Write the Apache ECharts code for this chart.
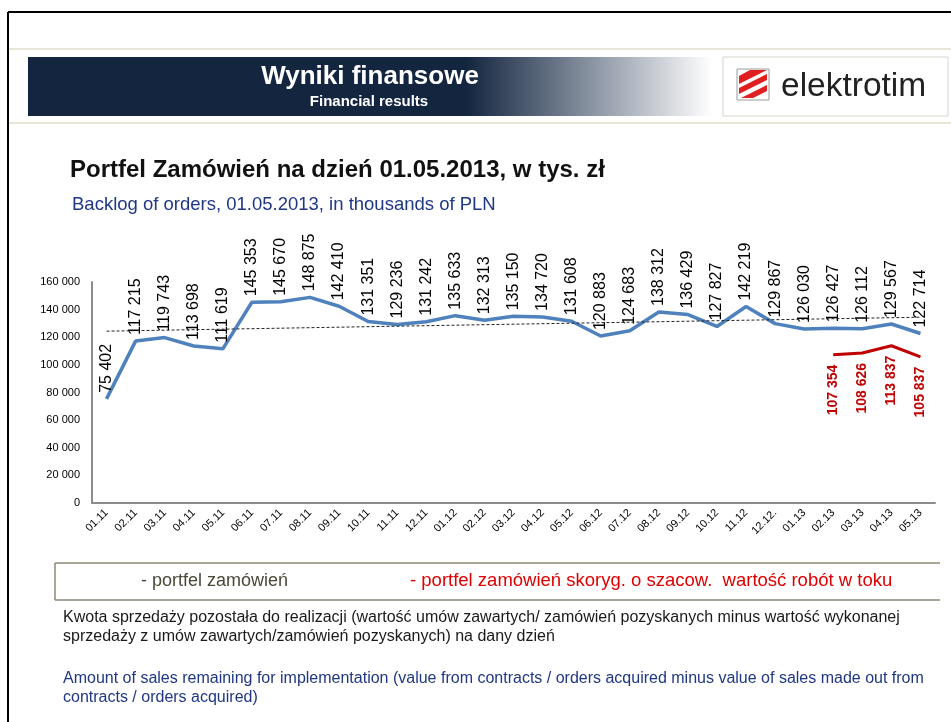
<!DOCTYPE html>
<html>
<head>
<meta charset="utf-8">
<title>Portfel Zamówień</title>
<script src="https://cdn.jsdelivr.net/npm/echarts@6/dist/echarts.min.js"></script>
<style>
    html, body { margin: 0; padding: 0; background: #fff; }
    #chart { width: 951px; height: 722px; }
</style>
</head>
<body>
<div id="chart"></div>
<script>
// miesiące (oś X)
const months = ['01.11', '02.11', '03.11', '04.11', '05.11', '06.11', '07.11', '08.11', '09.11', '10.11', '11.11', '12.11',
    '01.12', '02.12', '03.12', '04.12', '05.12', '06.12', '07.12', '08.12', '09.12', '10.12', '11.12', '12.12.',
    '01.13', '02.13', '03.13', '04.13', '05.13']
// portfel zamówień
const backlog = [75402, 117215, 119743, 113698, 111619, 145353, 145670, 148875, 142410, 131351, 129236, 131242,
    135633, 132313, 135150, 134720, 131608, 120883, 124683, 138312, 136429, 127827, 142219, 129867,
    126030, 126427, 126112, 129567, 122714]
// portfel skorygowany (od 02.13)
const adjustedMonths = ['02.13', '03.13', '04.13', '05.13']
const adjusted = [107354, 108626, 113837, 105837]
// linia trendu - odczyt z wykresu (początek / koniec)
const trendStart = 124400
const trendEnd = 134500

const fmt = (v) => String(v).replace(/\B(?=(\d{3})+(?!\d))/g, ' ')
const adjustedData = months.map((m) => {
    let i = adjustedMonths.indexOf(m)
    return i < 0 ? null : adjusted[i]
})

const FONT = 'Liberation Sans, Arial, sans-serif'

let myChart = echarts.init(document.getElementById('chart'))
let option = {
    animation: false,
    textStyle: { fontFamily: FONT },
    grid: {
        left: 92,
        right: 16,
        top: 282,
        bottom: 219,
    },
    xAxis: {
        type: 'category',
        data: months,
        boundaryGap: true,
        axisTick: { show: false },
        axisLine: {
            lineStyle: { color: '#8c8c8c', width: 2 },
        },
        axisLabel: {
            rotate: 45,
            fontSize: 11,
            color: '#000',
            margin: 8,
            interval: 0,
        },
    },
    yAxis: {
        type: 'value',
        min: 0,
        max: 160000,
        interval: 20000,
        splitLine: { show: false },
        axisTick: { show: false },
        axisLine: {
            show: true,
            lineStyle: { color: '#8c8c8c', width: 2 },
        },
        axisLabel: {
            fontSize: 11,
            color: '#000',
            margin: 12,
            formatter: fmt,
        },
    },
    series: [
        {
            name: 'portfel zamówień',
            type: 'line',
            data: backlog,
            symbol: 'circle',
            symbolSize: 0, // bez punktów, ale z etykietami
            showSymbol: true,
            lineStyle: { color: '#4f81bd', width: 3.5 },
            itemStyle: { color: '#4f81bd' },
            label: {
                show: true,
                position: 'top',
                rotate: 90,
                align: 'left',
                verticalAlign: 'middle',
                distance: 6,
                fontSize: 16,
                color: '#000',
                formatter: (p) => fmt(p.value),
            },
            labelLayout: { hideOverlap: false },
            markLine: {
                silent: true,
                symbol: 'none',
                label: { show: false },
                lineStyle: { color: '#222', width: 1, type: [3, 2] },
                data: [[
                    { coord: [months[0], trendStart] },
                    { coord: [months[months.length - 1], trendEnd] },
                ]],
            },
            z: 3,
        },
        {
            name: 'portfel skorygowany',
            type: 'line',
            data: adjustedData,
            symbol: 'circle',
            symbolSize: 0,
            showSymbol: true,
            connectNulls: false,
            lineStyle: { color: '#c00000', width: 3 },
            itemStyle: { color: '#c00000' },
            label: {
                show: true,
                position: 'bottom',
                rotate: 90,
                align: 'right',
                verticalAlign: 'middle',
                distance: 10,
                fontSize: 14,
                fontWeight: 'bold',
                color: '#c00000',
                formatter: (p) => (p.value == null ? '' : fmt(p.value)),
            },
            labelLayout: { hideOverlap: false },
            z: 3,
        },
    ],
    graphic: [
        // ramka strony
        { type: 'line', shape: { x1: 8, y1: 12, x2: 951, y2: 12 }, style: { stroke: '#000', lineWidth: 2 } },
        { type: 'line', shape: { x1: 8, y1: 12, x2: 8, y2: 722 }, style: { stroke: '#000', lineWidth: 2 } },
        { type: 'line', shape: { x1: 9, y1: 49, x2: 951, y2: 49 }, style: { stroke: '#e2ddcc', lineWidth: 1.5 } },
        { type: 'line', shape: { x1: 9, y1: 123, x2: 951, y2: 123 }, style: { stroke: '#e2ddcc', lineWidth: 1.5 } },
        // nagłówek
        {
            type: 'rect',
            shape: { x: 28, y: 57, width: 684, height: 59 },
            style: {
                fill: new echarts.graphic.LinearGradient(0, 0, 1, 0, [
                    { offset: 0, color: '#13253f' },
                    { offset: 0.64, color: '#13253f' },
                    { offset: 0.82, color: '#8791a0' },
                    { offset: 1, color: '#ffffff' },
                ]),
            },
        },
        {
            type: 'text', x: 370, y: 77,
            style: { text: 'Wyniki finansowe', font: 'bold 26px ' + FONT, fill: '#fff', align: 'center', verticalAlign: 'middle' },
        },
        {
            type: 'text', x: 369, y: 102,
            style: { text: 'Financial results', font: 'bold 15px ' + FONT, fill: '#fff', align: 'center', verticalAlign: 'middle' },
        },
        // logo
        { type: 'rect', shape: { x: 723, y: 57, width: 225, height: 59 }, style: { fill: '#fff', stroke: '#d8d4c8', lineWidth: 1 } },
        { type: 'rect', shape: { x: 737, y: 69, width: 32, height: 31 }, style: { fill: '#fff', stroke: '#9a9a9a', lineWidth: 1 } },
        { type: 'polygon', shape: { points: [[739, 76], [750, 70], [767, 70], [739, 84]] }, style: { fill: '#e02020' } },
        { type: 'polygon', shape: { points: [[739, 88], [767, 74], [767, 80], [739, 94]] }, style: { fill: '#e02020' } },
        { type: 'polygon', shape: { points: [[741, 98], [767, 85], [767, 91], [753, 98]] }, style: { fill: '#e02020' } },
        {
            type: 'text', x: 781, y: 87,
            style: { text: 'elektrotim', font: '33.5px ' + FONT, fill: '#222', verticalAlign: 'middle' },
        },
        // tytuły
        {
            type: 'text', x: 70, y: 170,
            style: { text: 'Portfel Zamówień na dzień 01.05.2013, w tys. zł', font: 'bold 24px ' + FONT, fill: '#111', verticalAlign: 'middle' },
        },
        {
            type: 'text', x: 72, y: 205,
            style: { text: 'Backlog of orders, 01.05.2013, in thousands of PLN', font: '18.5px ' + FONT, fill: '#1f3784', verticalAlign: 'middle' },
        },
        // legenda
        { type: 'line', shape: { x1: 55, y1: 563, x2: 940, y2: 563 }, style: { stroke: '#8e8a76', lineWidth: 1.5 } },
        { type: 'line', shape: { x1: 55, y1: 600, x2: 940, y2: 600 }, style: { stroke: '#8e8a76', lineWidth: 1.5 } },
        { type: 'line', shape: { x1: 55, y1: 563, x2: 55, y2: 600 }, style: { stroke: '#8e8a76', lineWidth: 1.5 } },
        {
            type: 'text', x: 141, y: 581,
            style: { text: '- portfel zamówień', font: '18px ' + FONT, fill: '#4a4838', verticalAlign: 'middle' },
        },
        {
            type: 'text', x: 410, y: 581,
            style: { text: '- portfel zamówień skoryg. o szacow.  wartość robót w toku', font: '18.5px ' + FONT, fill: '#e00000', verticalAlign: 'middle' },
        },
        // opis
        {
            type: 'text', x: 63, y: 618,
            style: { text: 'Kwota sprzedaży pozostała do realizacji (wartość umów zawartych/ zamówień pozyskanych minus wartość wykonanej', font: '16px ' + FONT, fill: '#1a1a1a', verticalAlign: 'middle' },
        },
        {
            type: 'text', x: 63, y: 637,
            style: { text: 'sprzedaży z umów zawartych/zamówień pozyskanych) na dany dzień', font: '16px ' + FONT, fill: '#1a1a1a', verticalAlign: 'middle' },
        },
        {
            type: 'text', x: 63, y: 679,
            style: { text: 'Amount of sales remaining for implementation (value from contracts / orders acquired minus value of sales made out from', font: '16px ' + FONT, fill: '#1f3784', verticalAlign: 'middle' },
        },
        {
            type: 'text', x: 63, y: 698,
            style: { text: 'contracts / orders acquired)', font: '16px ' + FONT, fill: '#1f3784', verticalAlign: 'middle' },
        },
    ],
}
myChart.setOption(option)
window.addEventListener('resize', myChart.resize)
</script>
</body>
</html>
